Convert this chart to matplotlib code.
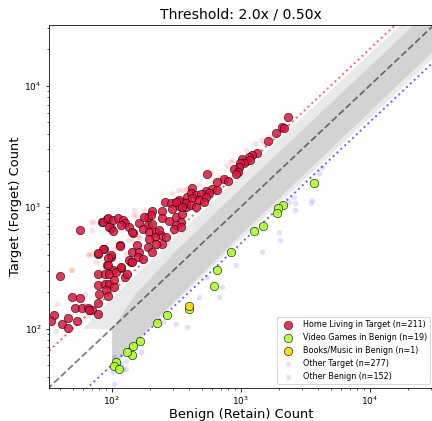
import matplotlib
matplotlib.use("Agg")
import matplotlib.pyplot as plt
import numpy as np

# --- data (counts) ---
home_x = [78, 99, 92, 102, 118, 140, 40, 79, 88, 96, 108, 127, 132, 78, 88, 96, 104, 104,
          91, 80, 93, 79, 49, 57, 52, 59, 65, 71, 67, 36, 34, 46, 54, 41, 46, 78,
          57, 84, 92, 99, 87, 117,
          260, 288, 324, 330, 365, 387, 376, 296, 245, 207, 190, 201, 245, 279, 315, 350,
          344, 315, 305, 344, 162, 190, 207, 174, 195, 220, 241, 218, 263, 195, 245, 220,
          85, 93, 102, 111, 122, 128, 96, 103, 118, 137, 147, 116, 156, 190, 207, 144,
          164, 159, 85, 78, 99, 93, 137, 145, 93, 118, 174,
          2094, 1884, 1626, 1343, 1230, 1159, 1104, 1175, 1028, 1060, 982, 970, 887, 958,
          914, 546, 743, 802, 659, 423, 604, 659, 537, 569, 411, 449, 491, 537, 423, 476,
          520, 334, 315, 376, 411, 449, 354, 2335, 2163, 145, 179, 234]
home_y = [414, 388, 332, 305, 318, 353, 270, 279, 279, 279, 292, 265, 283, 227, 234, 234, 252, 219,
          206, 191, 187, 162, 181, 179, 148, 148, 148, 141, 141, 128, 115, 122, 116, 108, 101, 132,
          646, 752, 796, 679, 456, 486,
          1107, 1074, 1127, 1019, 1107, 1217, 1005, 957, 931, 931, 832, 859, 807, 771, 832, 875,
          757, 710, 655, 687, 741, 710, 724, 655, 625, 625, 587, 569, 569, 551, 501, 501,
          757, 807, 781, 807, 781, 741, 687, 634, 710, 687, 607, 476, 486, 470, 428, 428,
          428, 388, 456, 419, 401, 384, 365, 353, 332, 321, 377,
          4560, 4064, 3508, 2812, 2692, 2606, 2415, 2445, 2477, 2296, 2296, 2128, 2051, 1959,
          1862, 1862, 1694, 1641, 1618, 1445, 1400, 1381, 1355, 1297, 1313, 1256, 1274, 1202, 1180, 1143,
          1107, 1143, 1107, 1074, 1040, 1005, 1005, 5510, 4467, 625, 832, 646]

games_x = [3680, 2130, 1940, 1930, 1480, 1280, 846, 656, 622, 398, 268, 225, 167, 146, 143,
           131, 108, 105, 113]
games_y = [1570, 1040, 986, 897, 700, 634, 425, 303, 222, 146, 130, 111, 79, 72, 61,
           64, 53, 49, 46]

books_x = [398]
books_y = [152]

other_target_x = [48, 67, 38, 37, 62, 69, 65, 115, 69, 73, 71, 66, 49, 147, 150, 179, 129, 141,
                  133, 159, 118, 82, 62, 1291, 1429, 1094, 837, 787, 861, 586, 679, 604, 354,
                  387, 476, 1656, 1514, 71, 155, 174, 296, 324, 376, 145, 164, 174, 271, 105,
                  76, 88]
other_target_y = [305, 414, 160, 96, 155, 150, 128, 343, 757, 757, 414, 401, 301, 859, 944, 944,
                  414, 441, 533, 569, 646, 301, 194, 3357, 3581, 2958, 2366, 2223, 2445, 1959,
                  1778, 1618, 1381, 1429, 1520, 3811, 3357, 646, 859, 832, 1297, 1381, 1381,
                  533, 569, 365, 516, 456, 353, 321]

other_benign_x = [3516, 2361, 2661, 1977, 1469, 914, 721, 679, 552, 476, 387, 315, 248, 169,
                  145, 129, 118, 122, 105, 102, 4027, 3573, 2582, 2661, 4276, 105, 129, 2037]
other_benign_y = [1074, 1107, 944, 625, 428, 332, 219, 181, 265, 181, 102, 109, 113, 64,
                  58, 54.5, 51, 46, 35, 43.5, 1901, 1143, 1217, 1074, 2153, 58, 46, 533]

# background cloud of all other categories, outlined as bands
fringe_x = [59, 100, 100, 300, 1000, 60000]
fringe_lo = [100, 100, 48, 160, 550, 33000]
fringe_hi = [100, 180, 180, 560, 1860, 111000]
core_x = [100, 150, 300, 1000, 60000]
core_lo = [48, 78, 165, 600, 38000]
core_hi = [100, 190, 420, 1450, 88000]

upper_thr = 2.0
lower_thr = 0.5
lim = (10 ** 1.51, 10 ** 4.5)

fig = plt.figure(figsize=(432 / 72, 421 / 72), dpi=72)
ax = fig.add_axes([48.5 / 432, 33 / 421, 385.5 / 432, 363 / 421])

ax.fill_between(fringe_x, fringe_lo, fringe_hi, color="#e9e9e9", lw=0, zorder=1)
ax.fill_between(core_x, core_lo, core_hi, color="#d3d3d3", lw=0, zorder=1.1)

line_x = np.array([10, 1e5])
ax.plot(line_x, line_x, "k--", alpha=0.5, lw=1.8, zorder=2)
ax.plot(line_x, upper_thr * line_x, ":", color="red", alpha=0.6, lw=2, zorder=2)
ax.plot(line_x, lower_thr * line_x, ":", color="blue", alpha=0.6, lw=2, zorder=2)

ax.scatter(home_x, home_y, s=70, c="crimson", edgecolors="k", linewidths=0.6, alpha=0.85,
           zorder=4, label="Home Living in Target (n=211)")
ax.scatter(games_x, games_y, s=70, c="greenyellow", edgecolors="k", linewidths=0.6, alpha=0.9,
           zorder=4, label="Video Games in Benign (n=19)")
ax.scatter(books_x, books_y, s=70, c="gold", edgecolors="k", linewidths=0.6, alpha=0.9,
           zorder=4.1, label="Books/Music in Benign (n=1)")
ax.scatter(other_target_x, other_target_y, s=30, c="red", alpha=0.12, linewidths=0,
           zorder=3, label="Other Target (n=277)")
ax.scatter(other_benign_x, other_benign_y, s=30, c="blue", alpha=0.12, linewidths=0,
           zorder=3, label="Other Benign (n=152)")

ax.set_xscale("log")
ax.set_yscale("log")
ax.set_xlim(lim)
ax.set_ylim(lim)
ax.tick_params(labelsize=9)
ax.set_xlabel("Benign (Retain) Count", fontsize=13, labelpad=1)
ax.set_ylabel("Target (Forget) Count", fontsize=13, labelpad=2)
ax.set_title(f"Threshold: {upper_thr:.1f}x / {lower_thr:.2f}x", fontsize=14)
ax.legend(loc="lower right", fontsize=8)

fig.savefig("out.png", dpi=72)
